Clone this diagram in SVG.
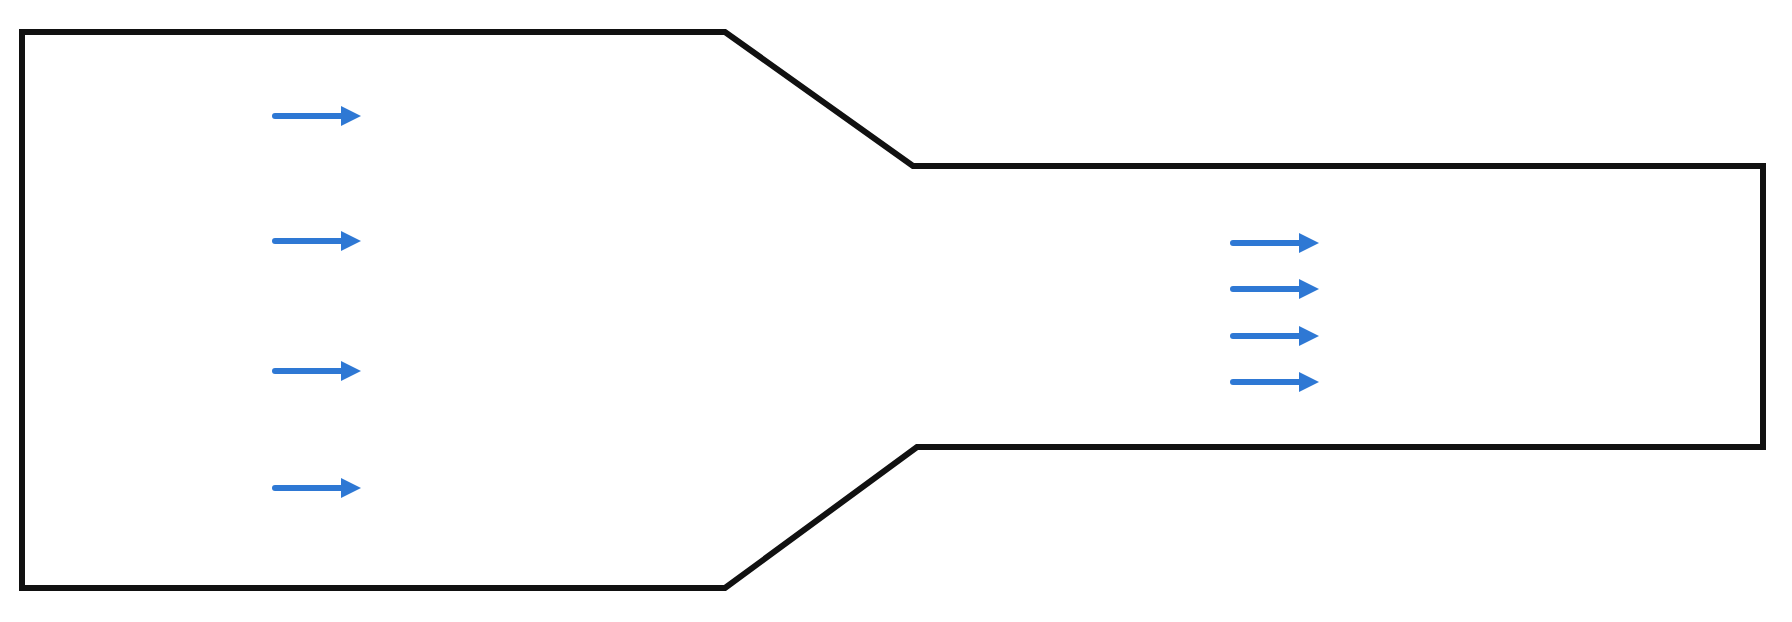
<svg xmlns="http://www.w3.org/2000/svg" xmlns:xlink="http://www.w3.org/1999/xlink" width="1792" height="622" viewBox="0 0 1792 622">
<style>
.wall{fill:none;stroke:#111;stroke-width:6;stroke-linejoin:miter}
.shaft{stroke:#2E78D4;stroke-width:6;stroke-linecap:round}
.head{fill:#2E78D4}
</style>
<defs>
<g id="arrow">
<line class="shaft" x1="0" y1="0" x2="70" y2="0"/>
<polygon class="head" points="66,-10 86,0 66,10"/>
</g>
</defs>
<rect width="1792" height="622" fill="#fff"/>
<g id="channel">
<path class="wall" d="M22,32 L725,32 L913,166 L1763,166 L1763,447 L917,447 L725,588 L22,588 Z"/>
</g>
<g id="connectors">
<use xlink:href="#arrow" href="#arrow" x="275" y="116"/>
<use xlink:href="#arrow" href="#arrow" x="275" y="241"/>
<use xlink:href="#arrow" href="#arrow" x="275" y="371"/>
<use xlink:href="#arrow" href="#arrow" x="275" y="488"/>
<use xlink:href="#arrow" href="#arrow" x="1233" y="243"/>
<use xlink:href="#arrow" href="#arrow" x="1233" y="289"/>
<use xlink:href="#arrow" href="#arrow" x="1233" y="336"/>
<use xlink:href="#arrow" href="#arrow" x="1233" y="382"/>
</g>
</svg>
